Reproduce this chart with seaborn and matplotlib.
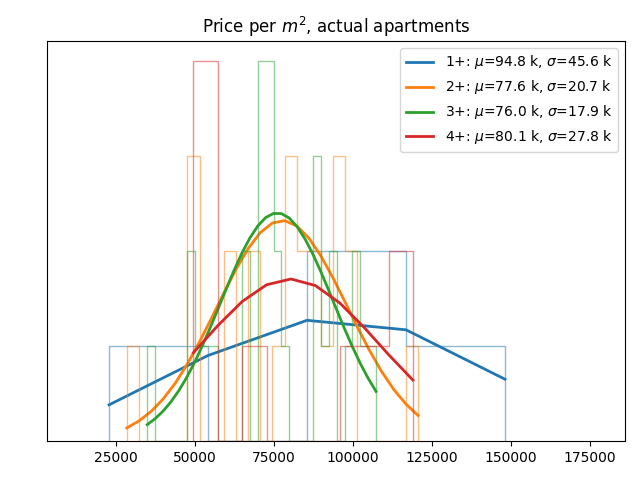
import numpy as np
import matplotlib
matplotlib.use("Agg")
import matplotlib.pyplot as plt
import seaborn as sns

# ============================================
# DONNEES
# ============================================
labels = ["1+", "2+", "3+", "4+"]
colors = ["tab:blue", "tab:orange", "tab:green", "tab:red"]
mu_k = [94.8, 77.6, 76.0, 80.1]
sigma_k = [45.6, 20.7, 17.9, 27.8]

# histogrammes : bornes des bins et effectifs
lo_1, hi_1 = 22800, 148100
counts_1 = [1, 0, 2, 1]

lo_2, hi_2 = 28400, 120600
counts_2 = [1, 0, 0, 0, 0, 3, 0, 0, 2, 0, 2, 0, 1, 3, 2, 2, 1, 3, 2, 0, 0, 0, 0, 1]

lo_3, hi_3 = 34900, 107300
counts_3 = [1, 0, 0, 0, 0, 2, 1, 1, 1, 0, 0, 0, 2, 0, 4, 4, 2, 1, 0, 0, 0, 3, 1, 2,
            0, 1, 2, 1, 1]

lo_4, hi_4 = 49500, 118950
counts_4 = [4, 0, 1, 0, 0, 0, 1, 1, 2]

# courbes (valeurs aux bords des bins)
curve_1 = [0.38, 0.90, 1.27, 1.17, 0.65]
curve_2 = [0.137, 0.210, 0.310, 0.442, 0.609, 0.811, 1.044, 1.297, 1.558, 1.807,
           2.025, 2.193, 2.294, 2.319, 2.264, 2.136, 1.946, 1.714, 1.458, 1.199,
           0.952, 0.730, 0.541, 0.388, 0.268]
curve_3 = [0.172, 0.235, 0.314, 0.412, 0.530, 0.669, 0.828, 1.005, 1.197, 1.397,
           1.599, 1.796, 1.978, 2.136, 2.262, 2.351, 2.395, 2.393, 2.346, 2.255,
           2.125, 1.965, 1.782, 1.585, 1.382, 1.182, 0.992, 0.816, 0.659, 0.521]
curve_4 = [0.929, 1.214, 1.468, 1.644, 1.705, 1.636, 1.453, 1.195, 0.910, 0.641]

series = [
    (lo_1, hi_1, counts_1, curve_1),
    (lo_2, hi_2, counts_2, curve_2),
    (lo_3, hi_3, counts_3, curve_3),
    (lo_4, hi_4, counts_4, curve_4),
]

# ============================================
# FIGURE
# ============================================
fig, ax = plt.subplots(figsize=(6.4, 4.8), dpi=100)

handles = []
for i, (lo, hi, counts, curve) in enumerate(series):
    edges = np.linspace(lo, hi, len(counts) + 1)
    centers = (edges[:-1] + edges[1:]) / 2
    values = np.repeat(centers, counts)
    # petits bins vides aux extremites pour fermer le contour "step"
    bins = np.concatenate([[lo - 1], edges, [hi + 1]])
    sns.histplot(x=values, bins=bins, element="step", fill=False,
                 color=colors[i], alpha=0.5, linewidth=1, ax=ax)
    label = rf"{labels[i]}: $\mu$={mu_k[i]:.1f} k, $\sigma$={sigma_k[i]:.1f} k"
    sns.lineplot(x=edges, y=curve, color=colors[i], linewidth=2, ax=ax)
    ax.lines[-1].set_label(label)
    handles.append(ax.lines[-1])

ax.legend(handles=handles, loc="upper right")
ax.set_title(r"Price per $m^2$, actual apartments")
ax.set_xlim(3165, 186076)
ax.set_ylim(0, 4.21)
ax.set_yticks([])
ax.set_xlabel("")
ax.set_ylabel("")

fig.subplots_adjust(left=0.0734, right=0.9766, top=0.9146, bottom=0.0813)
fig.savefig("out.png", dpi=100)
